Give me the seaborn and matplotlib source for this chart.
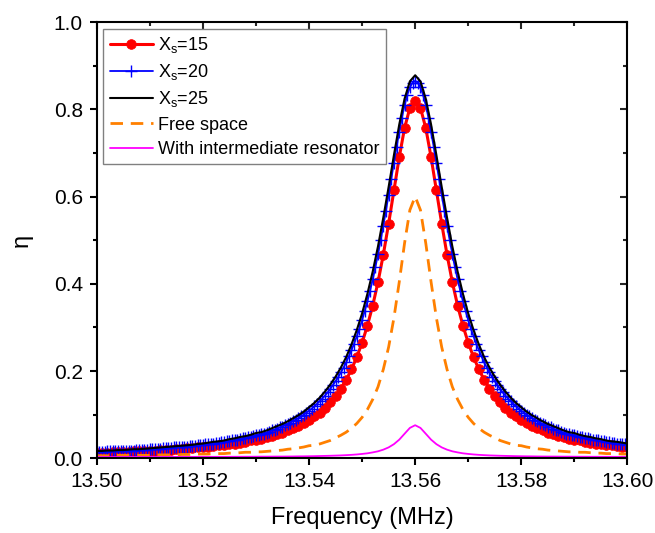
import numpy as np
import matplotlib
matplotlib.use("Agg")
import matplotlib.pyplot as plt
import seaborn as sns
from matplotlib.ticker import MultipleLocator, FormatStrFormatter

# frequency grids (MHz): circles/lines every 1 kHz, crosses every 0.5 kHz
freq_1k = np.round(np.linspace(13.50, 13.60, 101), 4)
freq_05k = np.round(np.linspace(13.50, 13.60, 201), 4)

# Xs = 15 (red circles)
eta_xs15 = [
    0.013, 0.013, 0.013, 0.014, 0.014, 0.015, 0.015, 0.016, 0.016, 0.017,
    0.017, 0.018, 0.019, 0.019, 0.020, 0.021, 0.022, 0.023, 0.024, 0.025,
    0.026, 0.027, 0.028, 0.030, 0.031, 0.033, 0.034, 0.036, 0.038, 0.041,
    0.043, 0.045, 0.048, 0.051, 0.055, 0.059, 0.064, 0.069, 0.074, 0.081,
    0.088, 0.096, 0.105, 0.116, 0.129, 0.143, 0.160, 0.180, 0.204, 0.232,
    0.265, 0.304, 0.350, 0.404, 0.467, 0.538, 0.614, 0.690, 0.757, 0.803,
    0.820,
    0.803, 0.757, 0.690, 0.614, 0.538, 0.467, 0.404, 0.350, 0.304, 0.265,
    0.232, 0.204, 0.180, 0.160, 0.143, 0.129, 0.116, 0.105, 0.096, 0.088,
    0.081, 0.074, 0.069, 0.064, 0.059, 0.055, 0.051, 0.048, 0.045, 0.043,
    0.041, 0.038, 0.036, 0.034, 0.033, 0.031, 0.030, 0.028, 0.027, 0.026,
]

# Xs = 20 (blue crosses)
eta_xs20 = [
    0.015, 0.015, 0.015, 0.015, 0.016, 0.016, 0.016, 0.016, 0.017, 0.017,
    0.017, 0.018, 0.018, 0.018, 0.018, 0.019, 0.019, 0.019, 0.020, 0.020,
    0.021, 0.021, 0.021, 0.022, 0.022, 0.023, 0.023, 0.024, 0.024, 0.025,
    0.025, 0.026, 0.026, 0.027, 0.027, 0.028, 0.028, 0.029, 0.030, 0.030,
    0.031, 0.032, 0.033, 0.033, 0.034, 0.035, 0.036, 0.037, 0.038, 0.039,
    0.040, 0.041, 0.042, 0.043, 0.045, 0.046, 0.047, 0.049, 0.050, 0.052,
    0.053,
    0.054, 0.056, 0.057, 0.059, 0.061, 0.064, 0.066, 0.068, 0.071, 0.073,
    0.076, 0.079, 0.082, 0.085, 0.089, 0.092, 0.096, 0.100, 0.105, 0.109,
    0.114, 0.119, 0.125, 0.131, 0.137, 0.144, 0.151, 0.159, 0.168, 0.177,
    0.186, 0.197, 0.208, 0.220, 0.234, 0.248, 0.263, 0.280, 0.297, 0.317,
    0.338, 0.360, 0.384, 0.410, 0.438, 0.468, 0.500, 0.533, 0.568, 0.604,
    0.641, 0.677, 0.714, 0.748, 0.781, 0.809, 0.833, 0.850, 0.861,
    0.865,
    0.861, 0.850, 0.833, 0.809, 0.781, 0.748, 0.714, 0.677, 0.641, 0.604,
    0.568, 0.533, 0.500, 0.468, 0.438, 0.410, 0.384, 0.360, 0.338, 0.317,
    0.297, 0.280, 0.263, 0.248, 0.234, 0.220, 0.208, 0.197, 0.186, 0.177,
    0.168, 0.159, 0.151, 0.144, 0.137, 0.131, 0.125, 0.119, 0.114, 0.109,
    0.105, 0.100, 0.096, 0.092, 0.089, 0.085, 0.082, 0.079, 0.076, 0.073,
    0.071, 0.068, 0.066, 0.064, 0.061, 0.059, 0.057, 0.056, 0.054,
    0.053, 0.052, 0.050, 0.049, 0.047, 0.046, 0.045, 0.043, 0.042, 0.041,
    0.040, 0.039, 0.038, 0.037, 0.036, 0.035, 0.034, 0.033, 0.033, 0.032,
    0.031,
]

# Xs = 25 (black line)
eta_xs25 = [
    0.017, 0.017, 0.018, 0.018, 0.019, 0.019, 0.020, 0.021, 0.021, 0.022,
    0.023, 0.024, 0.025, 0.026, 0.027, 0.028, 0.029, 0.030, 0.031, 0.033,
    0.034, 0.036, 0.038, 0.039, 0.041, 0.044, 0.046, 0.049, 0.051, 0.054,
    0.058, 0.060, 0.064, 0.069, 0.074, 0.079, 0.085, 0.092, 0.099, 0.107,
    0.117, 0.127, 0.139, 0.153, 0.169, 0.187, 0.208, 0.232, 0.261, 0.294,
    0.332, 0.377, 0.428, 0.486, 0.552, 0.622, 0.695, 0.765, 0.824, 0.864,
    0.878,
    0.864, 0.824, 0.765, 0.695, 0.622, 0.552, 0.486, 0.428, 0.377, 0.332,
    0.294, 0.261, 0.232, 0.208, 0.187, 0.169, 0.153, 0.139, 0.127, 0.117,
    0.107, 0.099, 0.092, 0.085, 0.079, 0.074, 0.069, 0.064, 0.060, 0.058,
    0.054, 0.051, 0.049, 0.046, 0.044, 0.041, 0.039, 0.038, 0.036, 0.034,
]

# free space (orange dashed)
eta_free = [
    0.006, 0.006, 0.006, 0.006, 0.007, 0.007, 0.007, 0.007, 0.007, 0.007,
    0.007, 0.008, 0.008, 0.008, 0.008, 0.008, 0.009, 0.009, 0.009, 0.010,
    0.010, 0.010, 0.011, 0.011, 0.011, 0.012, 0.012, 0.013, 0.014, 0.014,
    0.015, 0.015, 0.016, 0.017, 0.018, 0.019, 0.021, 0.022, 0.024, 0.026,
    0.029, 0.030, 0.033, 0.037, 0.041, 0.047, 0.053, 0.060, 0.069, 0.080,
    0.094, 0.112, 0.135, 0.164, 0.204, 0.255, 0.322, 0.404, 0.493, 0.569,
    0.600,
    0.569, 0.493, 0.404, 0.322, 0.255, 0.204, 0.164, 0.135, 0.112, 0.094,
    0.080, 0.069, 0.060, 0.053, 0.047, 0.041, 0.037, 0.033, 0.030, 0.029,
    0.026, 0.024, 0.022, 0.021, 0.019, 0.018, 0.017, 0.016, 0.015, 0.015,
    0.014, 0.014, 0.013, 0.012, 0.012, 0.011, 0.011, 0.011, 0.010, 0.010,
]

# with intermediate resonator (magenta)
eta_resonator = [
    0.0032, 0.0032, 0.0032, 0.0032, 0.0032, 0.0032, 0.0033, 0.0033, 0.0033, 0.0033,
    0.0033, 0.0033, 0.0033, 0.0034, 0.0034, 0.0034, 0.0034, 0.0034, 0.0034, 0.0035,
    0.0035, 0.0035, 0.0035, 0.0036, 0.0036, 0.0036, 0.0037, 0.0037, 0.0038, 0.0038,
    0.0039, 0.0040, 0.0040, 0.0041, 0.0042, 0.0042, 0.0043, 0.0044, 0.0046, 0.0047,
    0.0049, 0.0051, 0.0054, 0.0057, 0.0060, 0.0064, 0.0068, 0.0074, 0.0081, 0.0090,
    0.0102, 0.0116, 0.0137, 0.0162, 0.0200, 0.0252, 0.0326, 0.0429, 0.0564, 0.0698,
    0.0760,
    0.0698, 0.0564, 0.0429, 0.0326, 0.0252, 0.0200, 0.0162, 0.0137, 0.0116, 0.0102,
    0.0090, 0.0081, 0.0074, 0.0068, 0.0064, 0.0060, 0.0057, 0.0054, 0.0051, 0.0049,
    0.0047, 0.0046, 0.0044, 0.0043, 0.0042, 0.0042, 0.0041, 0.0040, 0.0040, 0.0039,
    0.0038, 0.0038, 0.0037, 0.0037, 0.0036, 0.0036, 0.0036, 0.0035, 0.0035, 0.0035,
]

xticks = [13.50, 13.52, 13.54, 13.56, 13.58, 13.60]

sns.set_theme(style="ticks")
plt.rcParams["font.family"] = ["Liberation Sans", "DejaVu Sans"]
plt.rcParams["mathtext.default"] = "regular"
plt.rcParams["text.color"] = "black"
plt.rcParams["axes.labelcolor"] = "black"

fig, ax = plt.subplots(figsize=(6.55, 5.33), dpi=100)
fig.subplots_adjust(left=0.1476, right=0.958, bottom=0.140, top=0.9587)

sns.lineplot(x=freq_1k, y=eta_xs15, ax=ax, color="#ff0000", linewidth=2.2,
             marker="o", markersize=7, markeredgecolor="#ff0000",
             markerfacecolor="#ff0000", markeredgewidth=0.5,
             label=r"X$_\mathregular{s}$=15")
sns.lineplot(x=freq_05k, y=eta_xs20, ax=ax, color="#0000ff", linewidth=1.3,
             marker="+", markersize=8.5, markeredgecolor="#0000ff",
             markeredgewidth=1.0, label=r"X$_\mathregular{s}$=20")
sns.lineplot(x=freq_1k, y=eta_xs25, ax=ax, color="black", linewidth=1.5,
             label=r"X$_\mathregular{s}$=25")
sns.lineplot(x=freq_1k, y=eta_free, ax=ax, color="#ff8000", linewidth=2.0,
             dashes=False, linestyle=(0, (4.5, 2.8)), label="Free space")
sns.lineplot(x=freq_1k, y=eta_resonator, ax=ax, color="#ff00ff", linewidth=1.3,
             label="With intermediate resonator")

ax.set_xlim(13.50, 13.60)
ax.set_ylim(0, 1.0)
ax.set_xticks(xticks)
ax.xaxis.set_minor_locator(MultipleLocator(0.01))
ax.yaxis.set_major_locator(MultipleLocator(0.2))
ax.yaxis.set_minor_locator(MultipleLocator(0.1))
ax.xaxis.set_major_formatter(FormatStrFormatter("%.2f"))
ax.yaxis.set_major_formatter(FormatStrFormatter("%.1f"))

for sp in ax.spines.values():
    sp.set_visible(True)
    sp.set_linewidth(1.5)
    sp.set_color("black")

ax.tick_params(which="major", direction="out", length=5, width=1.5,
               labelsize=15, colors="black", pad=5)
ax.tick_params(which="minor", direction="out", length=3, width=1.5, colors="black")

# inward ticks on the top and right edges
top = ax.secondary_xaxis("top")
top.set_xticks(xticks)
top.xaxis.set_minor_locator(MultipleLocator(0.01))
top.tick_params(which="major", direction="in", length=5, width=1.5, labeltop=False)
top.tick_params(which="minor", direction="in", length=3, width=1.5)
right = ax.secondary_yaxis("right")
right.yaxis.set_major_locator(MultipleLocator(0.2))
right.yaxis.set_minor_locator(MultipleLocator(0.1))
right.tick_params(which="major", direction="in", length=5, width=1.5, labelright=False)
right.tick_params(which="minor", direction="in", length=3, width=1.5)

ax.set_xlabel("Frequency (MHz)", fontsize=17, labelpad=11)
ax.set_ylabel("η", fontsize=17, labelpad=15)

leg = ax.legend(loc="upper left", fontsize=13, frameon=True, fancybox=False,
                edgecolor="#808080", framealpha=1, borderaxespad=0.37,
                handlelength=2.4, handletextpad=0.3, borderpad=0.35,
                labelspacing=0.4, numpoints=1)
leg.get_frame().set_linewidth(1.0)

plt.savefig("out.png", dpi=100)
